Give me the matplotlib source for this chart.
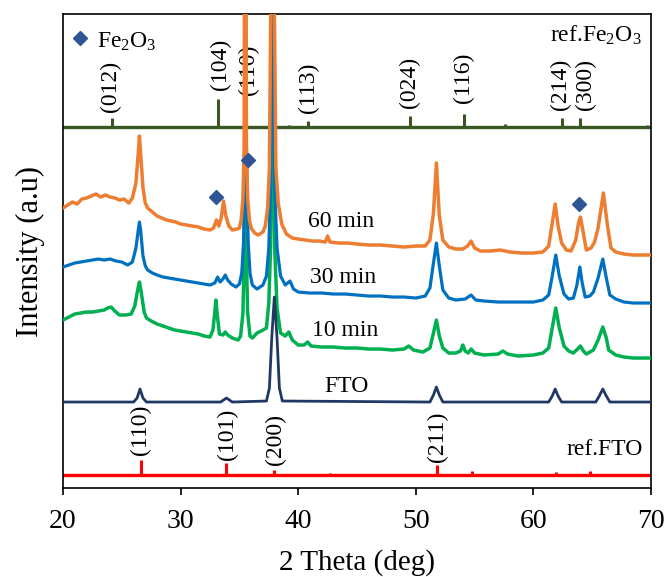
import matplotlib.pyplot as plt

plt.rcParams['font.family'] = ['Liberation Serif', 'DejaVu Serif']
plt.rcParams['mathtext.fontset'] = 'custom'
plt.rcParams['mathtext.rm'] = 'Liberation Serif'
plt.rcParams['mathtext.it'] = 'Liberation Serif:italic'

# intensity values are in arbitrary units (a.u.), curves are offset vertically
min60_x = [20.0, 20.4, 20.8, 21.2, 21.6, 22.0, 22.4, 22.8, 23.2, 23.6, 24.0, 24.4, 24.8, 25.2, 25.6, 25.9,
           26.2, 26.4, 26.5, 26.6, 26.8, 27.0, 27.2, 27.6, 28.0, 28.4, 28.8, 29.2, 29.6, 30.0, 30.5, 31.0,
           31.5, 32.0, 32.5, 32.8, 33.05, 33.25, 33.45, 33.65, 33.85, 34.1, 34.4, 34.8, 35.0, 35.15, 35.3,
           35.4, 35.5, 35.6, 35.7, 35.85, 36.0, 36.3, 36.6, 37.0, 37.2, 37.4, 37.55, 37.68, 37.82, 37.96,
           38.1, 38.3, 38.6, 39.0, 39.5, 40.0, 40.6, 41.2, 41.8, 42.3, 42.5, 42.7, 43.4, 44.2, 45.0, 46.0,
           47.0, 48.0, 49.0, 50.0, 50.8, 51.2, 51.5, 51.75, 52.0, 52.3, 52.8, 53.4, 54.0, 54.4, 54.7, 55.0,
           55.5, 56.3, 57.2, 58.0, 59.0, 60.0, 60.8, 61.3, 61.6, 61.85, 62.1, 62.4, 62.8, 63.2, 63.6, 63.85,
           64.0, 64.2, 64.5, 64.9, 65.2, 65.5, 65.95, 66.3, 66.6, 67.0, 67.7, 68.5, 69.3, 70.0]
min60_y = [280, 283, 286, 284, 289, 290, 292, 294, 291, 293, 291, 290, 288, 289, 285, 290,
           305, 335, 352, 335, 300, 285, 280, 276, 272, 270, 268, 267, 266, 264, 263, 262,
           261, 259, 258, 260, 268, 262, 270, 287, 272, 262, 258, 259, 260, 268, 290,
           340, 900, 340, 290, 268, 260, 255, 253, 256, 262, 280, 320, 500, 1000, 500,
           320, 285, 264, 254, 250, 249, 248, 247, 247, 246, 252, 246, 245, 245, 244, 243,
           243, 242, 241, 242, 242, 248, 275, 325, 272, 248, 241, 239, 239, 242, 247, 240,
           237, 237, 238, 236, 235, 235, 236, 242, 265, 284, 262, 245, 238, 237, 248, 266,
           271, 258, 238, 240, 246, 260, 295, 262, 240, 236, 234, 233, 233, 233]

min30_x = [20.0, 20.5, 21.0, 21.5, 22.0, 22.5, 23.0, 23.5, 24.0, 24.5, 25.0, 25.5, 25.9, 26.2, 26.4, 26.5,
           26.6, 26.8, 27.0, 27.2, 27.6, 28.0, 28.5, 29.0, 29.5, 30.0, 30.5, 31.0, 31.5, 32.0, 32.5, 32.9,
           33.15, 33.35, 33.6, 33.8, 34.0, 34.3, 34.7, 35.0, 35.2, 35.35, 35.45, 35.55, 35.65, 35.75, 35.9,
           36.1, 36.5, 37.0, 37.3, 37.5, 37.65, 37.76, 37.82, 37.88, 38.0, 38.2, 38.5, 38.9, 39.3, 39.6, 40.0,
           41.0, 42.0, 43.0, 44.0, 45.0, 46.0, 47.0, 48.0, 49.0, 50.0, 50.8, 51.2, 51.5, 51.75, 52.0, 52.3,
           52.8, 53.4, 54.2, 54.7, 55.1, 55.8, 57.0, 58.0, 59.0, 60.0, 60.8, 61.3, 61.6, 61.9, 62.2, 62.6,
           63.0, 63.4, 63.7, 63.95, 64.15, 64.4, 64.8, 65.1, 65.5, 65.9, 66.2, 66.5, 67.0, 67.7, 68.5, 69.3,
           70.0]
min30_y = [221, 223, 225, 226, 227, 228, 229, 228, 229, 227, 226, 223, 226, 240, 258, 266,
           258, 232, 222, 218, 215, 213, 211, 210, 209, 208, 207, 206, 205, 204, 203, 205,
           211, 206, 209, 213, 208, 204, 201, 204, 215, 245, 300, 380, 300, 245, 215,
           203, 199, 203, 212, 240, 300, 480, 1000, 480, 300, 240, 212, 203, 207, 199, 196,
           195, 195, 194, 194, 193, 192, 192, 191, 191, 190, 192, 200, 225, 245, 222, 198,
           190, 188, 189, 193, 188, 187, 186, 186, 186, 186, 188, 193, 212, 233, 212, 194,
           189, 190, 203, 221, 205, 191, 192, 196, 210, 229, 210, 193, 189, 186, 185, 185,
           185]

min10_x = [20.0, 20.5, 21.0, 21.5, 22.0, 22.5, 23.0, 23.5, 23.8, 24.1, 24.4, 24.8, 25.3, 25.8, 26.1, 26.35,
           26.5, 26.65, 26.9, 27.1, 27.5, 28.0, 28.5, 29.0, 29.5, 30.0, 30.5, 31.0, 31.5, 32.0, 32.5, 32.75,
           32.9, 33.0, 33.1, 33.3, 33.6, 33.8, 34.0, 34.4, 34.9, 35.1, 35.3, 35.4, 35.5, 35.6, 35.7, 35.9,
           36.1, 36.5, 37.0, 37.3, 37.5, 37.65, 37.75, 37.82, 37.9, 38.0, 38.2, 38.5, 38.9, 39.2, 39.5, 40.0,
           40.5, 40.8, 41.1, 42.0, 43.0, 44.0, 45.0, 46.0, 47.0, 48.0, 49.0, 49.4, 49.8, 50.6, 51.2, 51.5,
           51.75, 52.0, 52.3, 52.8, 53.4, 53.8, 54.0, 54.2, 54.45, 54.7, 55.0, 55.8, 57.0, 57.4, 57.8, 58.7,
           60.0, 60.8, 61.3, 61.6, 61.9, 62.2, 62.6, 63.0, 63.4, 63.75, 64.0, 64.25, 64.5, 65.1, 65.5, 65.9,
           66.2, 66.4, 67.0, 67.7, 68.5, 69.3, 70.0]
min10_y = [168, 171, 174, 175, 176, 176, 177, 178, 180, 181, 177, 173, 173, 174, 182, 198,
           206, 196, 176, 170, 167, 164, 162, 160, 158, 157, 156, 155, 154, 152, 151, 158,
           175, 188, 175, 154, 153, 156, 153, 150, 148, 152, 175, 230, 400, 230, 175, 152,
           150, 155, 158, 160, 185, 240, 350, 470, 350, 240, 180, 155, 152, 156, 148, 143,
           143, 146, 142, 141, 141, 140, 140, 139, 139, 138, 139, 142, 138, 136, 140, 155,
           168, 152, 140, 135, 135, 137, 143, 137, 135, 139, 135, 133, 134, 137, 134, 132,
           133, 135, 140, 160, 180, 160, 142, 137, 135, 139, 142, 137, 134, 138, 148, 161,
           150, 138, 133, 131, 130, 130, 130]

fto_x = [20.0, 26.0, 26.3, 26.55, 26.8, 27.1, 33.4, 33.9, 34.4, 37.3, 37.55, 37.75, 37.97, 38.2, 38.4,
         38.65, 51.2, 51.5, 51.75, 52.0, 52.3, 61.3, 61.6, 61.85, 62.1, 62.4, 65.3, 65.6, 65.9, 66.2,
         66.5, 70.0]
fto_y = [86, 86, 90, 99, 90, 86, 86, 90, 86, 87, 100, 150, 191, 150, 100,
         87, 86, 93, 101, 93, 86, 86, 92, 99, 92, 86, 86, 92, 99, 92,
         86, 86]

# reference patterns (stick positions and heights)
ref_fe2o3_base = 361
ref_fe2o3_x = [24.17, 33.2, 35.6, 39.25, 40.8, 43.5, 49.47, 54.07, 57.56, 62.39, 63.98, 69.7]
ref_fe2o3_y = [370, 389, 381, 363, 367, 362, 372, 374, 364, 370, 370, 363]
ref_fe2o3_labels = ['(012)', '(104)', '(110)', '', '(113)', '', '(024)', '(116)', '', '(214)', '(300)', '']

ref_fto_base = 13
ref_fto_x = [26.6, 33.9, 37.95, 42.7, 51.8, 54.8, 61.9, 64.8]
ref_fto_y = [28, 25, 18, 15, 23, 17, 16, 17]
ref_fto_labels = ['(110)', '(101)', '(200)', '', '(211)', '', '', '']

# Fe2O3 peaks marked with diamonds
marker_x = [33.0, 35.7, 63.9]
marker_y = [291, 328, 284]

fig = plt.figure(figsize=(6.66, 5.77), dpi=100)
ax = fig.add_axes([0.0946, 0.1542, 0.8829, 0.8215])

# reference lines
ax.plot([20, 70], [ref_fe2o3_base, ref_fe2o3_base], color='#385723', lw=2.4, zorder=2)
ax.vlines(ref_fe2o3_x, ref_fe2o3_base, ref_fe2o3_y, color='#385723', lw=2.2, zorder=2)
ax.plot([20, 70], [ref_fto_base, ref_fto_base], color='#ff0000', lw=2.4, zorder=2)
ax.vlines(ref_fto_x, ref_fto_base, ref_fto_y, color='#ff0000', lw=2.2, zorder=2)

# miller index labels
fe_lab_x = [24.0, 33.37, 35.76, 0, 40.87, 0, 49.47, 54.07, 0, 62.33, 64.46, 0]
fe_lab_y = [376, 398, 393, 0, 375, 0, 380, 385, 0, 378, 378, 0]
for lab, lx, ly in zip(ref_fe2o3_labels, fe_lab_x, fe_lab_y):
    if lab:
        ax.text(lx, ly, lab, rotation=90, ha='center', va='bottom', fontsize=17)
fto_lab_x = [26.56, 33.97, 38.06, 0, 51.86, 0, 0, 0]
fto_lab_y = [33, 28, 23, 0, 26, 0, 0, 0]
for lab, lx, ly in zip(ref_fto_labels, fto_lab_x, fto_lab_y):
    if lab:
        ax.text(lx, ly, lab, rotation=90, ha='center', va='bottom', fontsize=17)

# measured patterns
ax.plot(min10_x, min10_y, color='#00b050', lw=2.5, zorder=3)
ax.plot(min30_x, min30_y, color='#0070c0', lw=2.3, zorder=4)
ax.plot(min60_x, min60_y, color='#ed7d31', lw=2.5, zorder=5)
ax.plot(fto_x, fto_y, color='#1f3864', lw=2.0, zorder=6)

ax.plot(marker_x, marker_y, 'D', color='#2f5597', ms=7, zorder=7)
ax.plot([21.45], [450], 'D', color='#2f5597', ms=7, zorder=7)
ax.text(22.9, 440, 'Fe$_2$O$_3$', fontsize=17, va='baseline')
ax.text(69.2, 446, 'ref.Fe$_2$O$_3$', fontsize=17, ha='right', va='baseline')
ax.text(69.3, 33, 'ref.FTO', fontsize=17, ha='right', va='baseline')

ax.text(40.87, 261, '60 min', fontsize=17, va='baseline')
ax.text(41.0, 205, '30 min', fontsize=17, va='baseline')
ax.text(41.2, 152, '10 min', fontsize=17, va='baseline')
ax.text(42.2, 96, 'FTO', fontsize=17, va='baseline')

ax.set_xlim(20, 70)
ax.set_ylim(0, 474)
ax.set_xticks([20, 30, 40, 50, 60, 70])
ax.set_yticks([])
ax.tick_params(axis='x', direction='out', length=5, width=1.2, labelsize=20, pad=10)
for s in ax.spines.values():
    s.set_linewidth(1.2)
ax.set_xlabel('2 Theta (deg)', fontsize=21, labelpad=11)
ax.set_ylabel('Intensity (a.u)', fontsize=22)
ax.yaxis.set_label_coords(-0.031, 0.5)

plt.savefig('out.png', dpi=100)
